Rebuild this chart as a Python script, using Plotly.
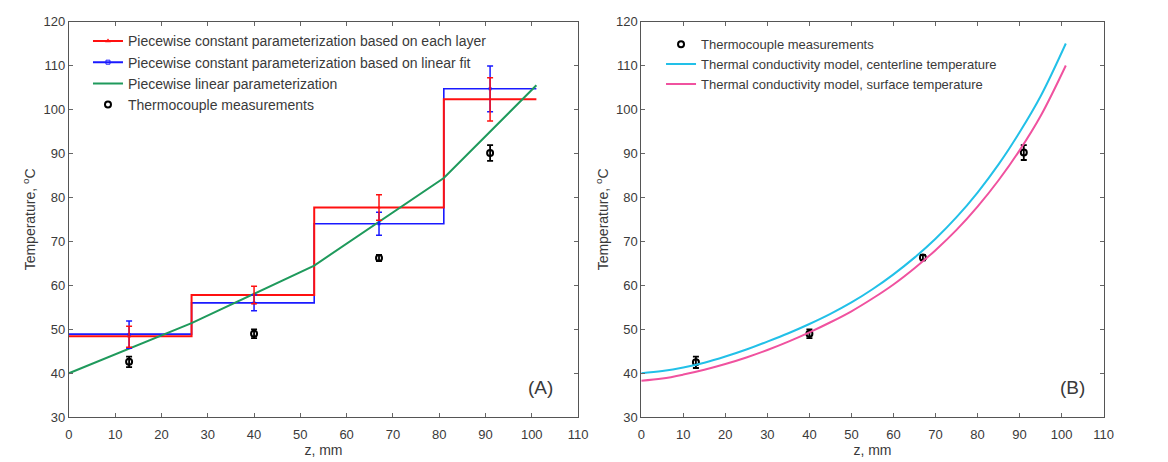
import plotly.graph_objects as go

# ---------------- data ----------------
z_meas = [13, 40, 67, 91]
T_meas_A = [42.6, 49.0, 66.2, 90.1]
T_err_A = [1.2, 1.0, 0.7, 1.8]

layer_edges = [0, 26.5, 53, 81, 101]
red_layer = [48.4, 57.8, 77.7, 102.3]
blue_layer = [48.9, 56.0, 74.0, 104.7]
red_center = [48.3, 57.8, 77.7, 102.3]
red_err = [2.4, 2.0, 2.9, 4.9]
blue_center = [48.8, 56.0, 74.0, 104.7]
blue_err = [3.1, 1.8, 2.6, 5.2]

green_z = [0, 26.5, 53, 81, 101]
green_T = [40.0, 51.4, 64.5, 84.4, 105.5]

T_meas_B = [42.5, 49.0, 66.3, 90.2]
T_err_B = [1.3, 1.0, 0.6, 1.7]

model_z = [0, 5, 10, 15, 20, 25, 30, 35, 40, 45, 50, 55, 60, 65, 70, 75, 80, 85, 90, 95, 101]
center_T = [40.0, 40.5, 41.3, 42.4, 43.8, 45.4, 47.2, 49.1, 51.2, 53.5, 56.1, 59.1, 62.5,
            66.3, 70.6, 75.5, 81.1, 87.5, 94.8, 103.0, 115.0]
surface_T = [38.3, 38.8, 39.7, 40.8, 42.1, 43.6, 45.3, 47.2, 49.3, 51.6, 54.1, 57.0, 60.2,
             63.9, 68.0, 72.6, 77.9, 83.9, 90.7, 98.5, 110.0]

x_ticks = list(range(0, 111, 10))
y_ticks = list(range(30, 121, 10))

RED = "#ff1010"
BLUE = "#1a1aff"
GREEN = "#1f9a5c"
CYAN = "#22c0e8"
PINK = "#f0529f"
TXT = "#3a3a3a"

fig = go.Figure()

# ---------------- panel A ----------------
fig.add_trace(go.Scatter(x=layer_edges, y=blue_layer + [blue_layer[-1]], mode="lines",
                         line=dict(color=BLUE, width=1.6, shape="hv"), showlegend=False,
                         xaxis="x", yaxis="y"))
fig.add_trace(go.Scatter(x=layer_edges, y=red_layer + [red_layer[-1]], mode="lines",
                         line=dict(color=RED, width=2, shape="hv"), showlegend=False,
                         xaxis="x", yaxis="y"))
fig.add_trace(go.Scatter(x=green_z, y=green_T, mode="lines",
                         line=dict(color=GREEN, width=2), showlegend=False,
                         xaxis="x", yaxis="y"))
fig.add_trace(go.Scatter(x=z_meas, y=blue_center, mode="markers",
                         marker=dict(symbol="square", size=3, color=BLUE),
                         error_y=dict(type="data", array=blue_err, color=BLUE, thickness=1.5, width=3),
                         showlegend=False, xaxis="x", yaxis="y"))
fig.add_trace(go.Scatter(x=z_meas, y=red_center, mode="markers",
                         marker=dict(symbol="triangle-up", size=3, color=RED),
                         error_y=dict(type="data", array=red_err, color=RED, thickness=1.5, width=3),
                         showlegend=False, xaxis="x", yaxis="y"))
fig.add_trace(go.Scatter(x=z_meas, y=T_meas_A, mode="markers",
                         marker=dict(symbol="circle-open", size=6, color="black", line=dict(width=2)),
                         error_y=dict(type="data", array=T_err_A, color="black", thickness=1.8, width=3),
                         showlegend=False, xaxis="x", yaxis="y"))

# legend entries for panel A
fig.add_trace(go.Scatter(x=[None], y=[None], mode="lines+markers", name="Piecewise constant parameterization based on each layer",
                         line=dict(color=RED, width=2), marker=dict(symbol="triangle-up", size=5, color=RED),
                         legend="legend", xaxis="x", yaxis="y"))
fig.add_trace(go.Scatter(x=[None], y=[None], mode="lines+markers", name="Piecewise constant parameterization based on linear fit",
                         line=dict(color=BLUE, width=2), marker=dict(symbol="square-open", size=4, color=BLUE),
                         legend="legend", xaxis="x", yaxis="y"))
fig.add_trace(go.Scatter(x=[None], y=[None], mode="lines", name="Piecewise linear parameterization",
                         line=dict(color=GREEN, width=2), legend="legend", xaxis="x", yaxis="y"))
fig.add_trace(go.Scatter(x=[None], y=[None], mode="markers", name="Thermocouple measurements",
                         marker=dict(symbol="circle-open", size=6, color="black", line=dict(width=2)),
                         legend="legend", xaxis="x", yaxis="y"))

# ---------------- panel B ----------------
fig.add_trace(go.Scatter(x=z_meas, y=T_meas_B, mode="markers", name="Thermocouple measurements",
                         marker=dict(symbol="circle-open", size=6, color="black", line=dict(width=2)),
                         error_y=dict(type="data", array=T_err_B, color="black", thickness=1.8, width=3),
                         legend="legend2", xaxis="x2", yaxis="y2"))
fig.add_trace(go.Scatter(x=model_z, y=center_T, mode="lines", name="Thermal conductivity model, centerline temperature",
                         line=dict(color=CYAN, width=2, shape="spline"), legend="legend2", xaxis="x2", yaxis="y2"))
fig.add_trace(go.Scatter(x=model_z, y=surface_T, mode="lines", name="Thermal conductivity model, surface temperature",
                         line=dict(color=PINK, width=2, shape="spline"), legend="legend2", xaxis="x2", yaxis="y2"))

axis_common = dict(range=[0, 110], tickvals=x_ticks, ticks="inside", ticklen=4, tickcolor="#666",
                   showline=True, linecolor="#555", linewidth=1, mirror="ticks", showgrid=False,
                   zeroline=False, tickfont=dict(size=13, color=TXT), ticklabelstandoff=5)
yaxis_common = dict(range=[30, 120], tickvals=y_ticks, ticks="inside", ticklen=4, tickcolor="#666",
                    showline=True, linecolor="#555", linewidth=1, mirror="ticks", showgrid=False,
                    zeroline=False, tickfont=dict(size=13, color=TXT))

ydom = [1 - 424 / 462, 1 - 15 / 462]
fig.update_layout(
    width=1168, height=462,
    margin=dict(l=0, r=0, t=0, b=0),
    paper_bgcolor="white", plot_bgcolor="white",
    font=dict(family="Liberation Sans, Arial, sans-serif", color=TXT, size=13),
    xaxis=dict(domain=[65.7 / 1168, 581 / 1168], anchor="y",
               title=dict(text="z, mm", standoff=1, font=dict(size=14, color=TXT)), **axis_common),
    yaxis=dict(domain=ydom, anchor="x",
               title=dict(text="Temperature, <sup>o</sup>C", standoff=4, font=dict(size=14, color=TXT)), **yaxis_common),
    xaxis2=dict(domain=[645 / 1168, 1113 / 1168], anchor="y2",
                title=dict(text="z, mm", standoff=1, font=dict(size=14, color=TXT)), **axis_common),
    yaxis2=dict(domain=ydom, anchor="x2",
                title=dict(text="Temperature, <sup>o</sup>C", standoff=4, font=dict(size=14, color=TXT)), **yaxis_common),
    legend=dict(x=85 / 1168, y=1 - 19 / 462, xanchor="left", yanchor="top", bgcolor="rgba(0,0,0,0)",
                font=dict(size=14, color=TXT), tracegroupgap=0, itemwidth=30),
    legend2=dict(x=665 / 1168, y=1 - 23 / 462, xanchor="left", yanchor="top", bgcolor="rgba(0,0,0,0)",
                 font=dict(size=13, color=TXT), tracegroupgap=0, itemwidth=30),
    annotations=[
        dict(text="(A)", x=0.926, y=0.075, xref="x domain", yref="y domain", showarrow=False,
             font=dict(size=19, color=TXT), xanchor="center", yanchor="middle"),
        dict(text="(B)", x=0.932, y=0.075, xref="x2 domain", yref="y2 domain", showarrow=False,
             font=dict(size=19, color=TXT), xanchor="center", yanchor="middle"),
    ],
)

fig.write_html("out.html")
